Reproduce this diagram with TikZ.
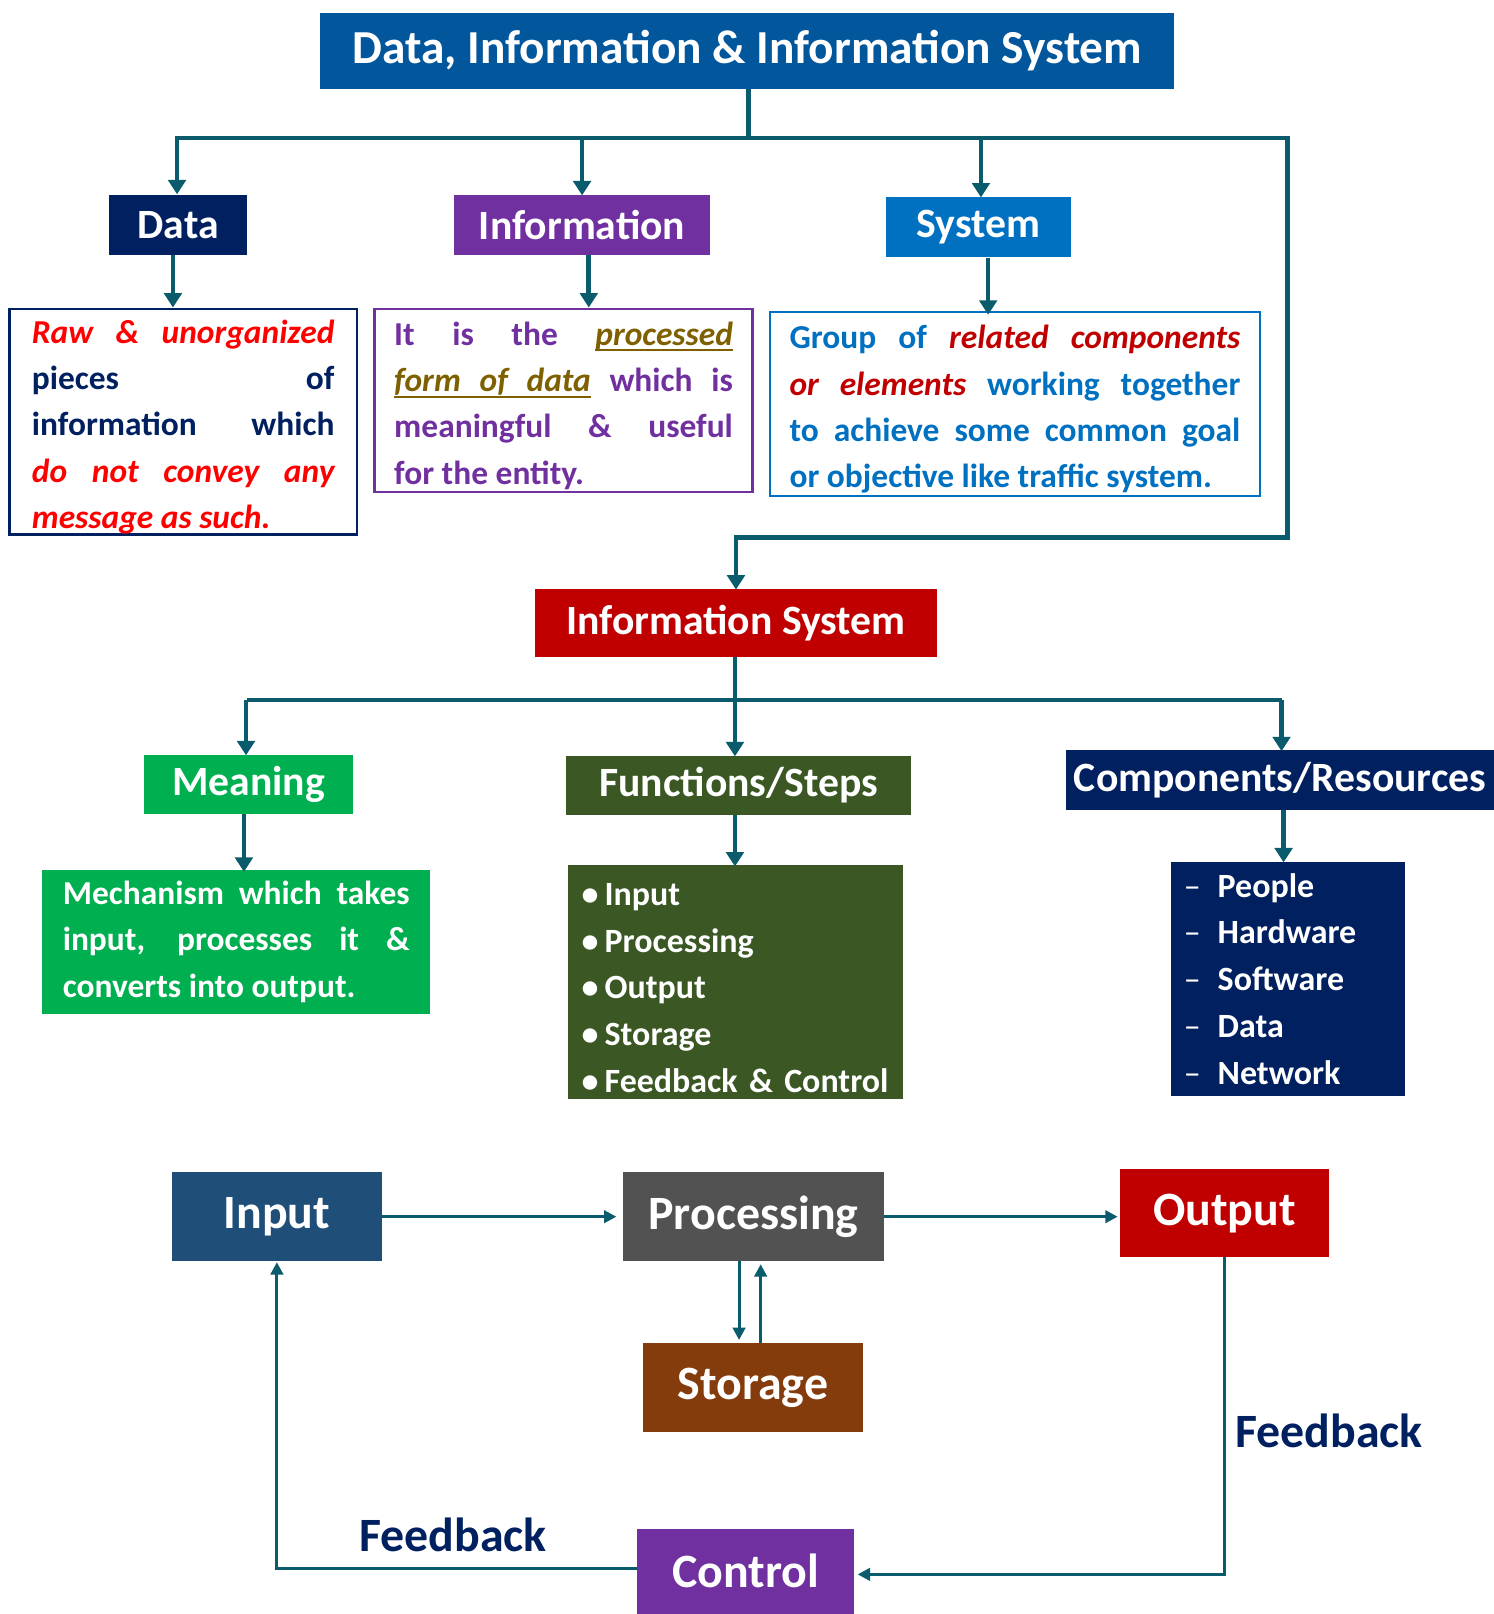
\documentclass[tikz,border=0pt]{standalone}
\usepackage{fontspec}
\setmainfont{Carlito}
\usetikzlibrary{arrows.meta}

% underlined word and stretchable underlined space
\newcommand{\ulword}[1]{\setbox0\hbox{#1}\rlap{\vrule height -4pt depth 6pt width \wd0}\box0}
\newcommand{\ulsp}{\leaders\hrule height -4pt depth 6pt\hskip\fontdimen2\font plus\fontdimen3\font minus\fontdimen4\font}
% taller first line, pushes a centred text block slightly down
\newcommand{\toplift}{\rule{0pt}{33pt}}

\definecolor{linec}{RGB}{10,92,108}
\definecolor{titlec}{RGB}{2,86,155}
\definecolor{navyc}{RGB}{0,32,96}
\definecolor{purplec}{RGB}{112,48,160}
\definecolor{bluec}{RGB}{0,112,192}
\definecolor{darkredc}{RGB}{192,0,0}
\definecolor{greenc}{RGB}{0,176,80}
\definecolor{forestc}{RGB}{58,87,36}
\definecolor{inputc}{RGB}{31,78,121}
\definecolor{grayc}{RGB}{82,82,82}
\definecolor{brownc}{RGB}{132,60,12}
\definecolor{brightred}{RGB}{255,0,0}
\definecolor{olivec}{RGB}{127,96,0}

\begin{document}
\begin{tikzpicture}[x=1pt,y=-1pt,
  box/.style={rectangle, inner sep=0pt, text=white, font=\bfseries\fontsize{40.5}{46}\selectfont},
  bigbox/.style={rectangle, inner sep=0pt, text=white, font=\bfseries\fontsize{46.5}{52}\selectfont},
  desc/.style={rectangle, line width=2.5pt, inner ysep=0pt, align=justify, font=\bfseries\fontsize{32.5}{45}\selectfont},
  listbox/.style={rectangle, inner ysep=0pt, align=left, text=white, font=\bfseries\fontsize{33}{45.5}\selectfont},
  conn/.style={draw=linec, line width=4.5pt, -{Triangle[width=17pt,length=14pt]}},
  branch/.style={draw=linec, line width=4.5pt},
  flow/.style={draw=linec, line width=3pt, -{Triangle[width=12pt,length=12pt]}},
  fblabel/.style={text=navyc, font=\bfseries\fontsize{46.5}{52}\selectfont}
]
\useasboundingbox (0,0) rectangle (1451,1568);

% ---------- top level ----------
\node[box, fill=titlec, minimum width=830pt, minimum height=73pt,
      font=\bfseries\fontsize{46}{52}\selectfont] (title) at (726,49.5)
      {Data, Information \& Information System};

\node[box, fill=navyc,   minimum width=134pt, minimum height=59pt] (data) at (173,218.5) {Data};
\node[box, fill=purplec, minimum width=249pt, minimum height=59pt] (info) at (565.5,218.5) {Information};
\node[box, fill=bluec,   minimum width=179pt, minimum height=59pt] (sys)  at (950.5,220.5) {System};

% descriptions
\node[desc, draw=navyc, text=navyc, text width=294pt, inner xsep=22pt, minimum height=219pt]
  (datadesc) at (178,409.5)
  {\toplift{\color{brightred}\itshape Raw \& unorganized}\linebreak
   pieces of\linebreak
   information which\linebreak
   {\color{brightred}\itshape do not convey any}\linebreak
   {\color{brightred}\itshape message as such.}};

\node[desc, draw=purplec, text=purplec, text width=329pt, inner xsep=19pt, minimum height=178pt]
  (infodesc) at (547.5,389)
  {\toplift It is the {\color{olivec}\itshape\ulword{processed}}\linebreak
   {\color{olivec}\itshape\ulword{form}\ulsp\ulword{of}\ulsp\ulword{data}} which is\linebreak
   meaningful \& useful\linebreak
   for the entity.};

\node[desc, draw=bluec, text=bluec, text width=438pt, inner xsep=19pt, minimum height=179pt]
  (sysdesc) at (986,392.5)
  {\toplift Group of {\color{darkredc}\itshape related components}\linebreak
   {\color{darkredc}\itshape or elements} working together\linebreak
   to achieve some common goal\linebreak
   or objective like traffic system.};

% ---------- information system ----------
\node[box, fill=darkredc, minimum width=390pt, minimum height=66pt] (infosys) at (715,605) {Information System};

\node[box, fill=greenc,  minimum width=203pt, minimum height=58pt] (meaning) at (241.5,762) {Meaning};
\node[box, fill=forestc, minimum width=335pt, minimum height=58pt] (funcs)   at (717.5,763) {Functions/Steps};
\node[box, fill=navyc,   minimum width=415pt, minimum height=58pt] (comps)   at (1243.5,758) {Components/Resources};

\node[desc, fill=greenc, text=white, line width=0pt, text width=337pt, inner xsep=20pt, minimum height=140pt]
  (meandesc) at (229.5,915)
  {Mechanism which takes\linebreak
   input, processes it \&\linebreak
   converts into output.};

\node[listbox, fill=forestc, text width=299pt, inner xsep=13pt, minimum height=228pt]
  (funclist) at (714.5,954)
  {\toplift\textbullet\hspace{6pt}Input\\
   \textbullet\hspace{6pt}Processing\\
   \textbullet\hspace{6pt}Output\\
   \textbullet\hspace{6pt}Storage\\
   \textbullet\hspace{6pt}Feedback \& Control};

\node[listbox, fill=navyc, text width=203pt, inner xsep=12pt, minimum height=228pt]
  (complist) at (1251.5,951)
  {\makebox[33pt][l]{\mdseries –}People\\
   \makebox[33pt][l]{\mdseries –}Hardware\\
   \makebox[33pt][l]{\mdseries –}Software\\
   \makebox[33pt][l]{\mdseries –}Data\\
   \makebox[33pt][l]{\mdseries –}Network};

% ---------- processing cycle ----------
\node[bigbox, fill=inputc,   minimum width=204pt, minimum height=86pt] (input)   at (269,1182) {Input};
\node[bigbox, fill=grayc,    minimum width=254pt, minimum height=86pt] (proc)    at (732,1182) {Processing};
\node[bigbox, fill=darkredc, minimum width=203pt, minimum height=85pt] (output)  at (1189.5,1178.5) {Output};
\node[bigbox, fill=brownc,   minimum width=213pt, minimum height=86pt] (storage) at (731.5,1348) {Storage};
\node[bigbox, fill=purplec,  minimum width=211pt, minimum height=83pt] (control) at (724.5,1526.5) {Control};

\node[fblabel] (fbright) at (1291,1390) {Feedback};
\node[fblabel] (fbleft)  at (440,1491) {Feedback};

% ---------- connectors: top tree ----------
\coordinate (hubtop) at (727,134);
\coordinate (hubleft) at (172,134);
\coordinate (hubright) at (1251,134);
\coordinate (turn) at (1251,522);
\draw[branch] (title.south -| hubtop) -- (hubtop);
\draw[branch] ([xshift=-2pt]hubleft) -- ([xshift=2pt]hubright);
\draw[conn] (hubleft) -- (hubleft |- data.north);
\draw[conn] (info.north |- hubtop) -- ([yshift=-1pt]info.north);
\draw[conn] ([xshift=2.5pt]sys.north |- hubtop) -- ([xshift=2.5pt,yshift=-1pt]sys.north);
\draw[conn] (hubright) -- (turn) -- (turn -| infosys.north) -- ([yshift=-1pt]infosys.north);

\draw[conn] ([xshift=-5pt]data.south) -- ([xshift=-5pt]data.south |- datadesc.north);
\draw[conn] ([xshift=6.5pt]info.south) -- ([xshift=6.5pt]info.south |- infodesc.north);
\draw[conn] ([xshift=9.5pt]sys.south) -- ([xshift=9.5pt,yshift=-4pt]sys.south |- sysdesc.north);

% ---------- connectors: information system tree ----------
\coordinate (hubmid) at (714,680);
\draw[branch] ([xshift=-1pt]infosys.south) -- (hubmid);
\draw[branch] ([xshift=-2pt]hubmid -| meaning.north) -- ([xshift=2pt]hubmid -| comps.north);
\draw[conn] ([xshift=-2.5pt]hubmid -| meaning.north) -- ([xshift=-2.5pt,yshift=-1pt]meaning.north);
\draw[conn] (hubmid) -- ([yshift=-1pt]hubmid |- funcs.north);
\draw[conn] ([xshift=1.5pt]hubmid -| comps.north) -- ([xshift=1.5pt,yshift=-1pt]comps.north);

\draw[conn] ([xshift=-4.5pt]meaning.south) -- ([xshift=-4.5pt,yshift=-2pt]meaning.south |- meandesc.north);
\draw[conn] ([xshift=-3.5pt]funcs.south) -- ([xshift=-3.5pt,yshift=-2pt]funcs.south |- funclist.north);
\draw[conn] ([xshift=3.5pt]comps.south) -- ([xshift=3.5pt,yshift=-1pt]comps.south |- complist.north);

% ---------- connectors: processing cycle ----------
\draw[flow, shorten >=6pt] (input.east) -- (input.east -| proc.west);
\draw[flow, shorten >=2pt] (proc.east |- input.east) -- (input.east -| output.west);
\draw[flow] ([xshift=-14pt]proc.south) -- ([xshift=-14pt,yshift=3pt]proc.south |- storage.north);
\draw[flow] ([xshift=7.5pt]storage.north) -- ([xshift=7.5pt,yshift=-3pt]storage.north |- proc.south);
\draw[flow] (output.south) |- ([xshift=3pt,yshift=-3pt]control.east);
\draw[flow] ([yshift=2.5pt]control.west) -| ([yshift=-1pt]input.south);

\end{tikzpicture}
\end{document}
